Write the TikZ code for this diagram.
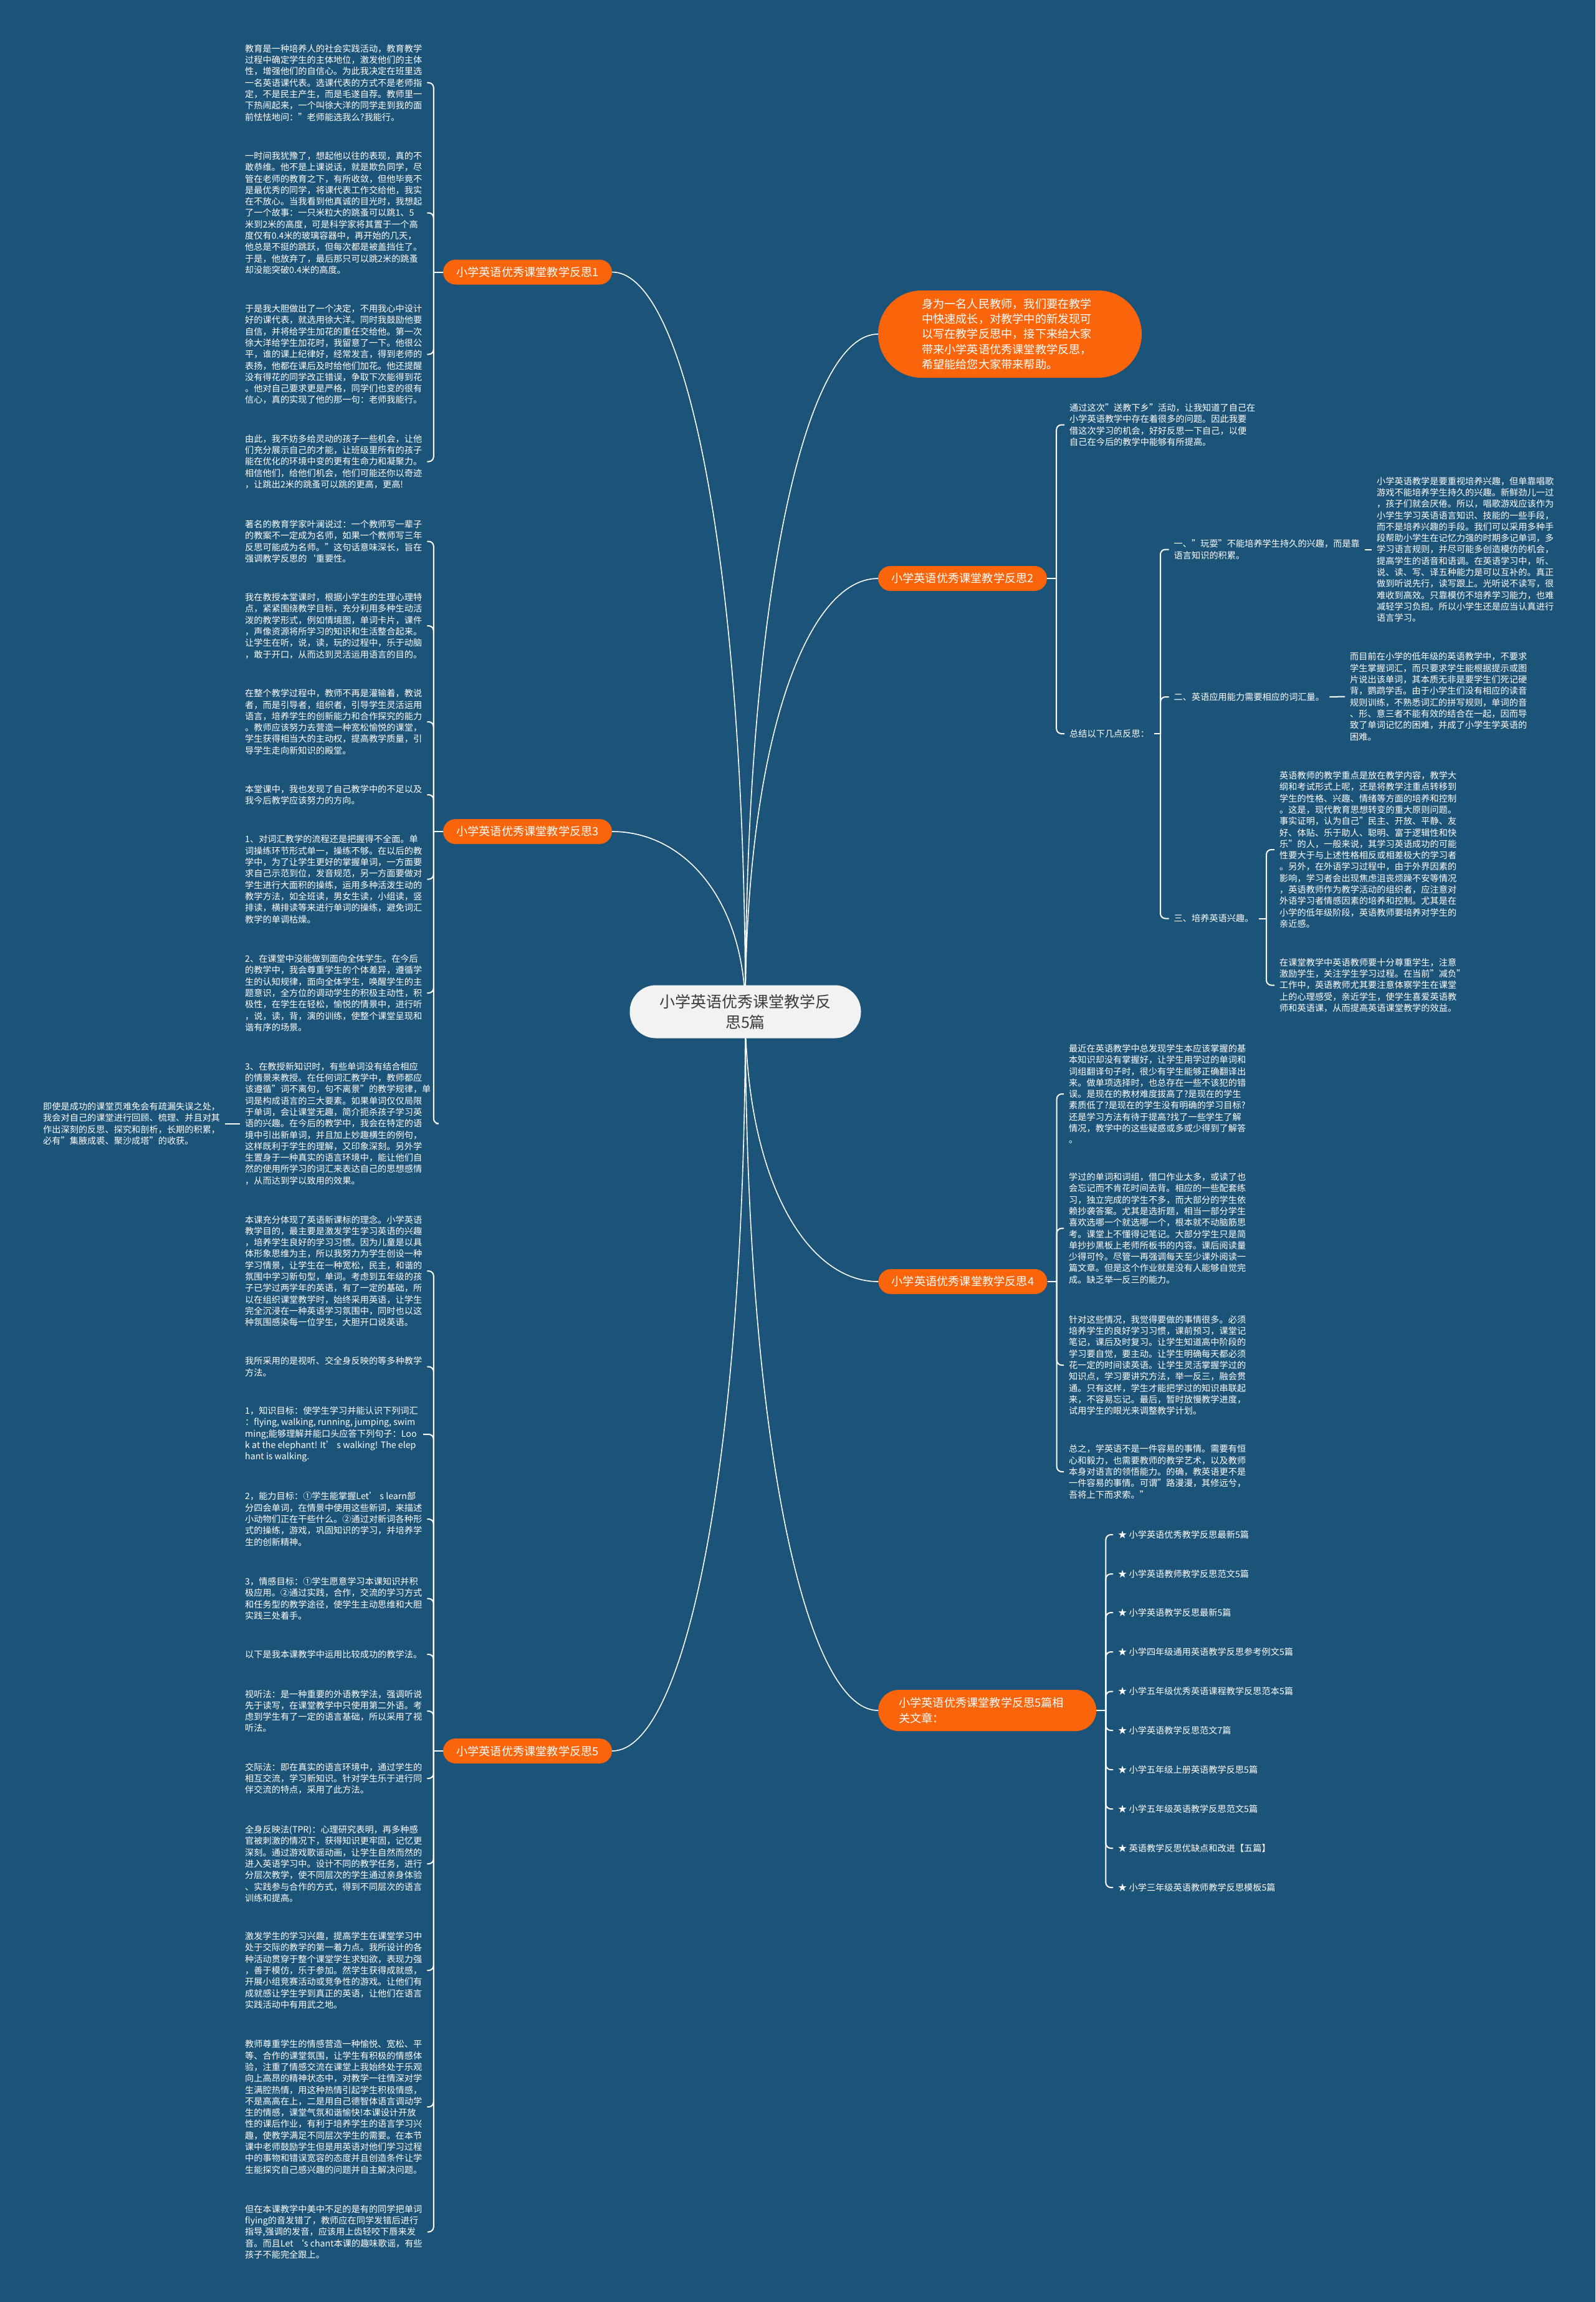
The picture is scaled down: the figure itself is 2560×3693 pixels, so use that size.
\documentclass[tikz,border=0pt]{standalone}
\usepackage{fontspec}
\setmainfont{Noto Sans CJK SC}
\usetikzlibrary{calc}
\definecolor{bgC}{RGB}{28,83,120}
\definecolor{orC}{RGB}{250,100,10}
\definecolor{ctrC}{RGB}{242,242,242}
\definecolor{ctrT}{RGB}{60,60,60}
\pgfdeclarelayer{back}
\pgfdeclarelayer{lines}
\pgfsetlayers{back,lines,main}
\tikzset{
 para/.style={font=\fontsize{14.2}{18.3}\selectfont, text=white, align=left, inner xsep=8pt, inner ysep=1pt, anchor=west},
 branchbox/.style={fill=orC, text=white, rounded corners=20pt, minimum height=40pt, minimum width=271pt, inner sep=0pt, font=\fontsize{18.2}{24}\selectfont},
 mainln/.style={draw=white, line width=1.6pt},
 brk/.style={draw=white, line width=2pt, rounded corners=8pt},
 straightln/.style={draw=white, line width=2pt},
}
\begin{document}
\begin{tikzpicture}[x=1pt,y=-1pt]
\useasboundingbox (0,0) rectangle (2560,3693);
\begin{pgfonlayer}{back}
\fill[bgC] (0,0) rectangle (2560,3693);
\end{pgfonlayer}

% center
\node[fill=ctrC, text=ctrT, rounded corners=42pt, minimum width=371pt, minimum height=85pt, align=center, inner sep=0pt, font=\fontsize{25}{33}\selectfont] (c) at (1196,1623) {小学英语优秀课堂教学反\\思5篇};

% branches
\node[branchbox] (b1) at (846.5,436.5) {小学英语优秀课堂教学反思1};
\node[branchbox] (b3) at (846.5,1334) {小学英语优秀课堂教学反思3};
\node[branchbox] (b5) at (846.5,2809) {小学英语优秀课堂教学反思5};
\node[branchbox] (b2) at (1544.5,928) {小学英语优秀课堂教学反思2};
\node[branchbox] (b4) at (1545,2056) {小学英语优秀课堂教学反思4};
\node[fill=orC, text=white, rounded corners=70pt, minimum width=423pt, minimum height=140pt, text width=283pt, align=left, inner xsep=70pt, inner ysep=0pt, font=\fontsize{18.2}{24.3}\selectfont] (bi) at (1620.5,536) {身为一名人民教师，我们要在教学\\中快速成长，对教学中的新发现可\\以写在教学反思中，接下来给大家\\带来小学英语优秀课堂教学反思，\\希望能给您大家带来帮助。};
\node[fill=orC, text=white, rounded corners=33pt, minimum height=66pt, text width=284pt, align=left, inner xsep=33pt, inner ysep=0pt, font=\fontsize{18.2}{24.4}\selectfont, anchor=west] (br) at (1409,2744) {小学英语优秀课堂教学反思5篇相\\关文章：};

% branch 1 paragraphs
\node[para] (p1a) at (385,132.75) {教育是一种培养人的社会实践活动，教育教学\\过程中确定学生的主体地位，激发他们的主体\\性，增强他们的自信心。为此我决定在班里选\\一名英语课代表。选课代表的方式不是老师指\\定，不是民主产生，而是毛遂自荐。教师里一\\下热闹起来，一个叫徐大洋的同学走到我的面\\前怯怯地问："老师能选我么?我能行。};
\node[para] (p1b) at (385,341.5) {一时间我犹豫了，想起他以往的表现，真的不\\敢恭维。他不是上课说话，就是欺负同学，尽\\管在老师的教育之下，有所收敛，但他毕竟不\\是最优秀的同学，将课代表工作交给他，我实\\在不放心。当我看到他真诚的目光时，我想起\\了一个故事：一只米粒大的跳蚤可以跳1、5\\米到2米的高度，可是科学家将其置于一个高\\度仅有0.4米的玻璃容器中，再开始的几天，\\他总是不挺的跳跃，但每次都是被盖挡住了。\\于是，他放弃了，最后那只可以跳2米的跳蚤\\却没能突破0.4米的高度。};
\node[para] (p1c) at (385,568.5) {于是我大胆做出了一个决定，不用我心中设计\\好的课代表，就选用徐大洋。同时我鼓励他要\\自信，并将给学生加花的重任交给他。第一次\\徐大洋给学生加花时，我留意了一下。他很公\\平，谁的课上纪律好，经常发言，得到老师的\\表扬，他都在课后及时给他们加花。他还提醒\\没有得花的同学改正错误，争取下次能得到花\\。他对自己要求更是严格，同学们也变的很有\\信心，真的实现了他的那一句：老师我能行。};
\node[para] (p1d) at (385,740.5) {由此，我不妨多给灵动的孩子一些机会，让他\\们充分展示自己的才能，让班级里所有的孩子\\能在优化的环境中变的更有生命力和凝聚力。\\相信他们，给他们机会，他们可能还你以奇迹\\，让跳出2米的跳蚤可以跳的更高，更高!};

% branch 3 paragraphs
\node[para] (p3a) at (385,868.5) {著名的教育学家叶澜说过：一个教师写一辈子\\的教案不一定成为名师，如果一个教师写三年\\反思可能成为名师。"这句话意味深长，旨在\\强调教学反思的`重要性。};
\node[para] (p3b) at (385,1004) {我在教授本堂课时，根据小学生的生理心理特\\点，紧紧围绕教学目标，充分利用多种生动活\\泼的教学形式，例如情境图，单词卡片，课件\\，声像资源将所学习的知识和生活整合起来。\\让学生在听，说，读，玩的过程中，乐于动脑\\，敢于开口，从而达到灵活运用语言的目的。};
\node[para] (p3c) at (385,1158) {在整个教学过程中，教师不再是灌输着，教说\\者，而是引导者，组织者，引导学生灵活运用\\语言，培养学生的创新能力和合作探究的能力\\。教师应该努力去营造一种宽松愉悦的课堂，\\学生获得相当大的主动权，提高教学质量，引\\导学生走向新知识的殿堂。};
\node[para] (p3d) at (385,1275) {本堂课中，我也发现了自己教学中的不足以及\\我今后教学应该努力的方向。};
\node[para] (p3e) at (385,1410.5) {1、对词汇教学的流程还是把握得不全面。单\\词操练环节形式单一，操练不够。在以后的教\\学中，为了让学生更好的掌握单词，一方面要\\求自己示范到位，发音规范，另一方面要做对\\学生进行大面积的操练，运用多种活泼生动的\\教学方法，如全班读，男女生读，小组读，竖\\排读，横排读等来进行单词的操练，避免词汇\\教学的单调枯燥。};
\node[para] (p3f) at (385,1593) {2、在课堂中没能做到面向全体学生。在今后\\的教学中，我会尊重学生的个体差异，遵循学\\生的认知规律，面向全体学生，唤醒学生的主\\题意识，全方位的调动学生的积极主动性，积\\极性，在学生在轻松，愉悦的情景中，进行听\\，说，读，背，演的训练，使整个课堂呈现和\\谐有序的场景。};
\node[para] (p3g) at (385,1802.5) {3、在教授新知识时，有些单词没有结合相应\\的情景来教授。在任何词汇教学中，教师都应\\该遵循"词不离句，句不离景"的教学规律，单\\词是构成语言的三大要素。如果单词仅仅局限\\于单词，会让课堂无趣，简介扼杀孩子学习英\\语的兴趣。在今后的教学中，我会在特定的语\\境中引出新单词，并且加上妙趣横生的例句，\\这样既利于学生的理解，又印象深刻。另外学\\生置身于一种真实的语言环境中，能让他们自\\然的使用所学习的词汇来表达自己的思想感情\\，从而达到学以致用的效果。};
\node[para] (pnote) at (61,1802.5) {即使是成功的课堂页难免会有疏漏失误之处，\\我会对自己的课堂进行回顾、梳理、并且对其\\作出深刻的反思、探究和剖析，长期的积累，\\必有"集腋成裘、聚沙成塔"的收获。};

% branch 5 paragraphs
\node[para] (p5a) at (385,2039) {本课充分体现了英语新课标的理念。小学英语\\教学目的，最主要是激发学生学习英语的兴趣\\，培养学生良好的学习习惯。因为儿童是以具\\体形象思维为主，所以我努力为学生创设一种\\学习情景，让学生在一种宽松，民主，和谐的\\氛围中学习新句型，单词。考虑到五年级的孩\\子已学过两学年的英语，有了一定的基础，所\\以在组织课堂教学时，始终采用英语，让学生\\完全沉浸在一种英语学习氛围中，同时也以这\\种氛围感染每一位学生，大胆开口说英语。};
\node[para] (p5b) at (385,2192.5) {我所采用的是视听、交全身反映的等多种教学\\方法。};
\node[para] (p5c) at (385,2301) {1，知识目标：使学生学习并能认识下列词汇\\：flying, walking, running, jumping, swim\\ming;能够理解并能口头应答下列句子：Loo\\k at the elephant! It’ s walking! The elep\\hant is walking.};
\node[para] (p5d) at (385,2437) {2，能力目标：①学生能掌握Let’ s learn部\\分四会单词，在情景中使用这些新词，来描述\\小动物们正在干些什么。②通过对新词各种形\\式的操练，游戏，巩固知识的学习，并培养学\\生的创新精神。};
\node[para] (p5e) at (385,2564.5) {3，情感目标：①学生愿意学习本课知识并积\\极应用。②通过实践，合作，交流的学习方式\\和任务型的教学途径，使学生主动思维和大胆\\实践三处着手。};
\node[para] (p5f) at (385,2654) {以下是我本课教学中运用比较成功的教学法。};
\node[para] (p5g) at (385,2745) {视听法：是一种重要的外语教学法，强调听说\\先于读写，在课堂教学中只使用第二外语。考\\虑到学生有了一定的语言基础，所以采用了视\\听法。};
\node[para] (p5h) at (385,2853) {交际法：即在真实的语言环境中，通过学生的\\相互交流，学习新知识。针对学生乐于进行同\\伴交流的特点，采用了此方法。};
\node[para] (p5i) at (385,2990) {全身反映法(TPR)：心理研究表明，再多种感\\官被刺激的情况下，获得知识更牢固，记忆更\\深刻。通过游戏歌谣动画，让学生自然而然的\\进入英语学习中。设计不同的教学任务，进行\\分层次教学，使不同层次的学生通过亲身体验\\、实践参与合作的方式，得到不同层次的语言\\训练和提高。};
\node[para] (p5j) at (385,3161) {激发学生的学习兴趣，提高学生在课堂学习中\\处于交际的教学的第一着力点。我所设计的各\\种活动贯穿于整个课堂学生求知欲，表现力强\\，善于模仿，乐于参加。然学生获得成就感，\\开展小组竞赛活动或竞争性的游戏。让他们有\\成就感让学生学到真正的英语，让他们在语言\\实践活动中有用武之地。};
\node[para] (p5k) at (385,3380) {教师尊重学生的情感营造一种愉悦、宽松、平\\等、合作的课堂氛围，让学生有积极的情感体\\验，注重了情感交流在课堂上我始终处于乐观\\向上高昂的精神状态中，对教学一往情深对学\\生满腔热情，用这种热情引起学生积极情感，\\不是高高在上，二是用自己德智体语言调动学\\生的情感，课堂气氛和谐愉快!本课设计开放\\性的课后作业，有利于培养学生的语言学习兴\\趣，使教学满足不同层次学生的需要。在本节\\课中老师鼓励学生但是用英语对他们学习过程\\中的事物和错误宽容的态度并且创造条件让学\\生能探究自己感兴趣的问题并自主解决问题。};
\node[para] (p5l) at (385,3580.5) {但在本课教学中美中不足的是有的同学把单词\\flying的音发错了，教师应在同学发错后进行\\指导,强调的发音，应该用上齿轻咬下唇来发\\音。而且Let `s chant本课的趣味歌谣，有些\\孩子不能完全跟上。};

% branch 2
\node[para] (p2a) at (1708,681.5) {通过这次"送教下乡"活动，让我知道了自己在\\小学英语教学中存在着很多的问题。因此我要\\借这次学习的机会，好好反思一下自己，以便\\自己在今后的教学中能够有所提高。};
\node[para] (p2b) at (1708,1177) {总结以下几点反思：};
\node[para] (p2c) at (1875.5,881.5) {一、"玩耍"不能培养学生持久的兴趣，而是靠\\语言知识的积累。};
\node[para] (p2cx) at (2201,881.5) {小学英语教学是要重视培养兴趣，但单靠唱歌\\游戏不能培养学生持久的兴趣。新鲜劲儿一过\\，孩子们就会厌倦。所以，唱歌游戏应该作为\\小学生学习英语语言知识、技能的一些手段，\\而不是培养兴趣的手段。我们可以采用多种手\\段帮助小学生在记忆力强的时期多记单词，多\\学习语言规则，并尽可能多创造模仿的机会，\\提高学生的语音和语调。在英语学习中，听、\\说、读、写、译五种能力是可以互补的。真正\\做到听说先行，读写跟上。光听说不读写，很\\难收到高效。只靠模仿不培养学习能力，也难\\减轻学习负担。所以小学生还是应当认真进行\\语言学习。};
\node[para] (p2d) at (1875.5,1118) {二、英语应用能力需要相应的词汇量。};
\node[para] (p2dx) at (2158,1117.5) {而目前在小学的低年级的英语教学中，不要求\\学生掌握词汇，而只要求学生能根据提示或图\\片说出该单词，其本质无非是要学生们死记硬\\背，鹦鹉学舌。由于小学生们没有相应的读音\\规则训练，不熟悉词汇的拼写规则，单词的音\\、形、意三者不能有效的结合在一起，因而导\\致了单词记忆的困难，并成了小学生学英语的\\困难。};
\node[para] (p2e) at (1875.5,1473.5) {三、培养英语兴趣。};
\node[para] (p2ex) at (2045,1363) {英语教师的教学重点是放在教学内容，教学大\\纲和考试形式上呢，还是将教学注重点转移到\\学生的性格、兴趣、情绪等方面的培养和控制\\。这是，现代教育思想转变的重大原则问题。\\事实证明，认为自己"民主、开放、平静、友\\好、体贴、乐于助人、聪明、富于逻辑性和快\\乐"的人，一般来说，其学习英语成功的可能\\性要大于与上述性格相反或相差极大的学习者\\。另外，在外语学习过程中，由于外界因素的\\影响，学习者会出现焦虑沮丧烦躁不安等情况\\，英语教师作为教学活动的组织者，应注意对\\外语学习者情感因素的培养和控制。尤其是在\\小学的低年级阶段，英语教师要培养对学生的\\亲近感。};
\node[para] (p2ey) at (2045,1580.5) {在课堂教学中英语教师要十分尊重学生，注意\\激励学生，关注学生学习过程。在当前"减负"\\工作中，英语教师尤其要注意体察学生在课堂\\上的心理感受，亲近学生，使学生喜爱英语教\\师和英语课，从而提高英语课堂教学的效益。};

% branch 4
\node[para] (p4a) at (1707,1755) {最近在英语教学中总发现学生本应该掌握的基\\本知识却没有掌握好，让学生用学过的单词和\\词组翻译句子时，很少有学生能够正确翻译出\\来。做单项选择时，也总存在一些不该犯的错\\误。是现在的教材难度拔高了?是现在的学生\\素质低了?是现在的学生没有明确的学习目标?\\还是学习方法有待于提高?找了一些学生了解\\情况，教学中的这些疑惑或多或少得到了解答\\。};
\node[para] (p4b) at (1707,1970.5) {学过的单词和词组，借口作业太多，或读了也\\会忘记而不肯花时间去背。相应的一些配套练\\习，独立完成的学生不多，而大部分的学生依\\赖抄袭答案。尤其是选折题，相当一部分学生\\喜欢选哪一个就选哪一个，根本就不动脑筋思\\考。课堂上不懂得记笔记。大部分学生只是简\\单抄抄黑板上老师所板书的内容。课后阅读量\\少得可怜。尽管一再强调每天至少课外阅读一\\篇文章。但是这个作业就是没有人能够自觉完\\成。缺乏举一反三的能力。};
\node[para] (p4c) at (1707,2190) {针对这些情况，我觉得要做的事情很多。必须\\培养学生的良好学习习惯，课前预习，课堂记\\笔记，课后及时复习。让学生知道高中阶段的\\学习要自觉，要主动。让学生明确每天都必须\\花一定的时间读英语。让学生灵活掌握学过的\\知识点，学习要讲究方法，举一反三，融会贯\\通。只有这样，学生才能把学过的知识串联起\\来，不容易忘记。最后，暂时放慢教学进度，\\试用学生的眼光来调整教学计划。};
\node[para] (p4d) at (1707,2361) {总之，学英语不是一件容易的事情。需要有恒\\心和毅力，也需要教师的教学艺术，以及教师\\本身对语言的领悟能力。的确，教英语更不是\\一件容易的事情。可谓"路漫漫，其修远兮，\\吾将上下而求索。"};

% related list
\node[para] (r1) at (1786,2462) {★ 小学英语优秀教学反思最新5篇};
\node[para] (r2) at (1786,2525) {★ 小学英语教师教学反思范文5篇};
\node[para] (r3) at (1786,2587) {★ 小学英语教学反思最新5篇};
\node[para] (r4) at (1786,2650) {★ 小学四年级通用英语教学反思参考例文5篇};
\node[para] (r5) at (1786,2713.5) {★ 小学五年级优秀英语课程教学反思范本5篇};
\node[para] (r6) at (1786,2776) {★ 小学英语教学反思范文7篇};
\node[para] (r7) at (1786,2839) {★ 小学五年级上册英语教学反思5篇};
\node[para] (r8) at (1786,2902) {★ 小学五年级英语教学反思范文5篇};
\node[para] (r9) at (1786,2965) {★ 英语教学反思优缺点和改进【五篇】};
\node[para] (r10) at (1786,3028) {★ 小学三年级英语教师教学反思模板5篇};

% junction coordinates
\coordinate (j1) at ($(b1.west)+(-15,0)$);
\coordinate (j3) at ($(b3.west)+(-15,0)$);
\coordinate (j5) at ($(b5.west)+(-15,0)$);
\coordinate (j2) at ($(b2.east)+(15,0)$);
\coordinate (j4) at ($(b4.east)+(15,0)$);
\coordinate (jr) at ($(br.east)+(15,0)$);
\coordinate (j2b) at ($(p2b.west)+(154,0)$);
\coordinate (j2e) at ($(p2e.west)+(156.5,0)$);

\begin{pgfonlayer}{lines}
% main curves
\foreach \b/\a in {b1/east,b3/east,b5/east,bi/west,b2/west,b4/west,br/west}{
  \draw[mainln] (c.center) .. controls ($(c.center)!0.61!(c.center|-\b.\a)$) and ($(\b.\a)!0.55!(c.center|-\b.\a)$) .. (\b.\a);
}
% left brackets
\draw[brk] (b1.west) -- (j1);
\foreach \n in {p1a,p1b,p1c,p1d} \draw[brk] (j1) |- (\n.east);
\draw[brk] (b3.west) -- (j3);
\foreach \n in {p3a,p3b,p3c,p3d,p3e,p3f,p3g} \draw[brk] (j3) |- (\n.east);
\draw[straightln] (pnote.east) -- (p3g.west);
\draw[brk] (b5.west) -- (j5);
\foreach \n in {p5a,p5b,p5c,p5d,p5e,p5f,p5g,p5h,p5i,p5j,p5k,p5l} \draw[brk] (j5) |- (\n.east);
% right brackets
\draw[brk] (b2.east) -- (j2);
\foreach \n in {p2a,p2b} \draw[brk] (j2) |- (\n.west);
\draw[brk] (p2b.east) -- (j2b);
\foreach \n in {p2c,p2d,p2e} \draw[brk] (j2b) |- (\n.west);
\draw[straightln] (p2c.east) -- (p2cx.west);
\draw[straightln] (p2d.east) -- (p2dx.west);
\draw[brk] (p2e.east) -- (j2e);
\foreach \n in {p2ex,p2ey} \draw[brk] (j2e) |- (\n.west);
\draw[brk] (b4.east) -- (j4);
\foreach \n in {p4a,p4b,p4c,p4d} \draw[brk] (j4) |- (\n.west);
\draw[brk] (br.east) -- (jr);
\foreach \n in {r1,r2,r3,r4,r5,r6,r7,r8,r9,r10} \draw[brk] (jr) |- (\n.west);
\end{pgfonlayer}
\end{tikzpicture}
\end{document}
